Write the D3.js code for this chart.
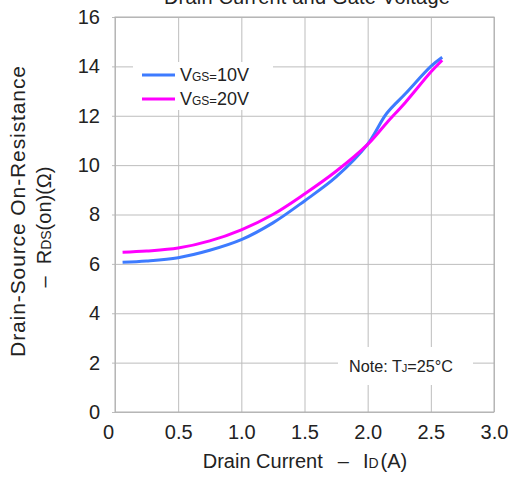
<!DOCTYPE html>
<html>
<head>
<meta charset="utf-8">
<script src="https://cdn.jsdelivr.net/npm/d3@7"></script>
<style>
  body { margin: 0; background: #fff; }
  text { font-family: Arial, "Liberation Sans", sans-serif; fill: #222; }
</style>
</head>
<body>
<div class="chart"></div>
<script>
// ======= RDS(on) vs DRAIN CURRENT ===========

const current = [0.06, 0.25, 0.5, 0.75, 1.0, 1.25, 1.5, 1.75, 2.0, 2.15, 2.3, 2.5, 2.59]
const vgs10 = [6.07, 6.12, 6.25, 6.55, 6.98, 7.66, 8.55, 9.52, 10.85, 12.09, 12.9, 14.0, 14.37]
const vgs20 = [6.47, 6.52, 6.64, 6.93, 7.38, 8.0, 8.83, 9.75, 10.84, 11.71, 12.55, 13.77, 14.25]
const xTicks = [0, 0.5, 1.0, 1.5, 2.0, 2.5, 3.0]
const yTicks = [0, 2, 4, 6, 8, 10, 12, 14, 16]

const margin = { top: 17, right: 16, bottom: 79, left: 115 }
const width = 510 - margin.left - margin.right
const height = 491 - margin.top - margin.bottom

const root = d3.select('.chart')
  .append('svg')
    .attr('width', 510)
    .attr('height', 491)

const svg = root.append('g')
  .attr('transform', `translate(${margin.left}, ${margin.top})`)

const xScale = d3.scaleLinear().domain([0, 3]).range([0, width])
const yScale = d3.scaleLinear().domain([0, 16]).range([height, 0])

// grid lines (a little past the frame on both sides, like tick marks)
svg.append('g')
  .call(d3.axisLeft(yScale).tickValues(yTicks).tickSize(-width - 3).tickFormat(''))
  .attr('transform', 'translate(-3, 0)')
  .call(g => g.select('.domain').remove())
  .selectAll('line').attr('stroke', '#bdbdbd')

svg.append('g')
  .call(d3.axisBottom(xScale).tickValues(xTicks).tickSize(height).tickFormat(''))
  .call(g => g.select('.domain').remove())
  .selectAll('line').attr('stroke', '#bdbdbd')

svg.append('rect')
  .attr('width', width)
  .attr('height', height)
  .attr('fill', 'none')
  .attr('stroke', '#b0b0b0')

// tick labels
const xAxis = d3.axisBottom(xScale)
  .tickValues(xTicks)
  .tickSize(0)
  .tickPadding(13)
  .tickFormat(d => d === 0 ? '0' : d3.format('.1f')(d))
svg.append('g')
  .attr('transform', `translate(0, ${height})`)
  .call(xAxis)
  .call(g => g.select('.domain').remove())
  .selectAll('text')
    .attr('font-size', 20)
    .attr('fill', '#222')
    .attr('dx', d => d === 0 ? -7 : 0)

svg.append('g')
  .call(d3.axisLeft(yScale).tickValues(yTicks).tickSize(0).tickPadding(15))
  .call(g => g.select('.domain').remove())
  .selectAll('text')
    .attr('font-size', 20)
    .attr('fill', '#222')

// the curves
const line = ys => d3.line()
  .x((d, i) => xScale(current[i]))
  .y(d => yScale(d))
  .curve(d3.curveCatmullRom.alpha(0.5))(ys)

const series = [
  { name: '10V', values: vgs10, color: '#3d7bff' },
  { name: '20V', values: vgs20, color: '#ff00ff' }
]

// legend box and note box go over the grid
svg.append('rect')
  .attr('x', 18).attr('y', 45)
  .attr('width', 140).attr('height', 48)
  .attr('fill', '#fff')

svg.append('rect')
  .attr('x', 223).attr('y', 330)
  .attr('width', 135).attr('height', 38)
  .attr('fill', '#fff')

svg.selectAll('path.curve')
  .data(series)
  .enter()
  .append('path')
    .attr('class', 'curve')
    .attr('d', d => line(d.values))
    .attr('fill', 'none')
    .attr('stroke', d => d.color)
    .attr('stroke-width', 3)

const legend = svg.selectAll('g.leg')
  .data(series)
  .enter()
  .append('g')
    .attr('class', 'leg')
    .attr('transform', (d, i) => `translate(27, ${58 + i * 24})`)

legend.append('line')
  .attr('x2', 33)
  .attr('stroke', d => d.color)
  .attr('stroke-width', 3)

const legText = legend.append('text')
  .attr('x', 38)
  .attr('y', 6)
  .attr('font-size', 18)
legText.append('tspan').text('V')
legText.append('tspan').attr('font-size', 12).text('GS')
legText.append('tspan').attr('font-size', 13).text('=')
legText.append('tspan').text(d => d.name)

const note = svg.append('text')
  .attr('x', 234)
  .attr('y', 355)
  .attr('font-size', 16)
  .attr('textLength', 104)
  .attr('lengthAdjust', 'spacingAndGlyphs')
note.append('tspan').text('Note: T')
note.append('tspan').attr('font-size', 11).text('J')
note.append('tspan').text('=25°C')

// titles (the top one is cut off by the edge in the original too)
root.append('text')
  .attr('x', 307)
  .attr('y', 4)
  .attr('text-anchor', 'middle')
  .attr('font-size', 20)
  .attr('letter-spacing', 0.2)
  .text('Drain Current and Gate Voltage')

const xTitle = root.append('text')
  .attr('x', 305)
  .attr('y', 468)
  .attr('text-anchor', 'middle')
  .attr('font-size', 20)
xTitle.append('tspan').text('Drain Current')
xTitle.append('tspan').attr('dx', 15).text('\u2013')
xTitle.append('tspan').attr('dx', 14).text('I')
xTitle.append('tspan').attr('font-size', 14).text('D')
xTitle.append('tspan').attr('dx', 2).text('(A)')

const yTitle = root.append('g')
  .attr('transform', 'translate(25, 211) rotate(-90)')
yTitle.append('text')
  .attr('text-anchor', 'middle')
  .attr('font-size', 21)
  .attr('letter-spacing', 0.9)
  .text('Drain-Source On-Resistance')

const yTitle2 = yTitle.append('text')
  .attr('x', -16)
  .attr('y', 26)
  .attr('text-anchor', 'middle')
  .attr('font-size', 20)
yTitle2.append('tspan').text('\u2013')
yTitle2.append('tspan').attr('dx', 12).text('R')
yTitle2.append('tspan').attr('font-size', 14).text('DS')
yTitle2.append('tspan').text('(on)(\u03A9)')
</script>
</body>
</html>
